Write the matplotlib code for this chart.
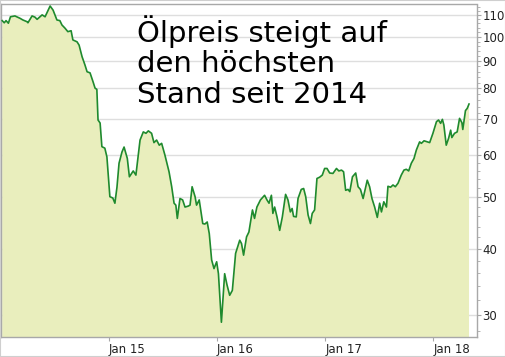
import numpy as np
import pandas as pd
import matplotlib.pyplot as plt
from matplotlib.ticker import FixedLocator, NullFormatter

# Oil price (USD per barrel)
DATES = [
    '2014-01-05', '2014-01-12', '2014-01-18', '2014-01-26', '2014-02-02', '2014-02-17',
    '2014-03-06', '2014-03-16', '2014-03-30', '2014-04-02', '2014-04-16', '2014-04-26',
    '2014-05-03', '2014-05-20', '2014-05-30', '2014-06-16', '2014-06-26', '2014-07-09',
    '2014-07-19', '2014-07-26', '2014-08-05', '2014-08-15', '2014-08-26', '2014-09-01',
    '2014-09-15', '2014-09-22', '2014-10-02', '2014-10-12', '2014-10-19', '2014-10-29',
    '2014-11-08', '2014-11-15', '2014-11-21', '2014-11-25', '2014-12-02', '2014-12-08',
    '2014-12-18', '2014-12-25', '2015-01-04', '2015-01-14', '2015-01-21', '2015-01-28',
    '2015-02-04', '2015-02-14', '2015-02-21', '2015-03-04', '2015-03-11', '2015-03-24',
    '2015-04-02', '2015-04-16', '2015-04-27', '2015-05-06', '2015-05-14', '2015-05-25',
    '2015-06-02', '2015-06-11', '2015-06-20', '2015-06-28', '2015-07-09', '2015-07-23',
    '2015-08-01', '2015-08-09', '2015-08-15', '2015-08-20', '2015-08-29', '2015-09-07',
    '2015-09-15', '2015-09-26', '2015-10-02', '2015-10-09', '2015-10-19', '2015-10-24',
    '2015-11-02', '2015-11-14', '2015-11-21', '2015-11-29', '2015-12-06', '2015-12-14',
    '2015-12-22', '2015-12-31', '2016-01-06', '2016-01-16', '2016-01-27', '2016-02-04',
    '2016-02-13', '2016-02-22', '2016-03-04', '2016-03-18', '2016-03-24', '2016-03-31',
    '2016-04-10', '2016-04-18', '2016-04-30', '2016-05-07', '2016-05-15', '2016-05-27',
    '2016-06-10', '2016-06-18', '2016-06-25', '2016-07-03', '2016-07-08', '2016-07-14',
    '2016-07-22', '2016-07-31', '2016-08-09', '2016-08-20', '2016-08-28', '2016-09-05',
    '2016-09-11', '2016-09-16', '2016-09-25', '2016-10-01', '2016-10-12', '2016-10-20',
    '2016-10-27', '2016-11-04', '2016-11-12', '2016-11-18', '2016-11-26', '2016-12-04',
    '2016-12-13', '2016-12-22', '2016-12-30', '2017-01-07', '2017-01-16', '2017-01-27',
    '2017-02-08', '2017-02-16', '2017-02-25', '2017-03-04', '2017-03-11', '2017-03-19',
    '2017-03-25', '2017-04-03', '2017-04-14', '2017-04-22', '2017-04-30', '2017-05-09',
    '2017-05-23', '2017-05-31', '2017-06-08', '2017-06-17', '2017-06-26', '2017-07-04',
    '2017-07-10', '2017-07-18', '2017-07-27', '2017-08-01', '2017-08-10', '2017-08-18',
    '2017-08-26', '2017-09-04', '2017-09-15', '2017-09-24', '2017-10-02', '2017-10-10',
    '2017-10-19', '2017-10-28', '2017-11-05', '2017-11-16', '2017-11-22', '2017-12-01',
    '2017-12-12', '2017-12-20', '2017-12-31', '2018-01-12', '2018-01-19', '2018-01-26',
    '2018-02-01', '2018-02-06', '2018-02-14', '2018-02-22', '2018-03-01', '2018-03-05',
    '2018-03-14', '2018-03-23', '2018-03-31', '2018-04-08', '2018-04-11', '2018-04-20',
    '2018-04-26', '2018-05-02',
]
PRICES = [
    107.3, 106.3, 107.3, 106.1, 109.1, 109.5,
    108.4, 107.6, 106.8, 106.3, 109.5, 108.9,
    107.9, 110.0, 109.1, 114.3, 112.3, 107.6,
    107.3, 105.3, 103.9, 102.3, 102.7, 98.7,
    97.9, 96.5, 91.8, 88.5, 86.0, 85.6,
    82.4, 80.1, 79.7, 69.8, 68.9, 62.2,
    61.8, 59.5, 50.1, 49.8, 48.7, 52.2,
    57.9, 60.8, 62.1, 59.1, 54.6, 56.0,
    55.0, 64.0, 66.3, 65.9, 66.6, 65.9,
    63.3, 64.0, 62.6, 63.1, 60.0, 55.8,
    52.3, 48.7, 48.3, 45.6, 49.7, 49.4,
    47.9, 48.1, 48.3, 52.3, 50.1, 48.3,
    49.4, 44.6, 44.5, 44.9, 42.7, 38.1,
    36.7, 37.8, 35.9, 29.1, 35.9, 34.2,
    32.7, 33.4, 39.2, 41.5, 40.9, 38.9,
    42.1, 43.0, 47.3, 45.6, 47.9, 49.4,
    50.4, 49.4, 48.7, 50.4, 46.6, 47.9,
    45.9, 43.3, 45.9, 50.6, 49.4, 46.9,
    47.6, 46.0, 45.9, 49.7, 51.7, 51.9,
    50.1, 46.3, 44.6, 46.6, 47.3, 54.2,
    54.5, 55.0, 56.6, 56.6, 55.5, 55.4,
    56.6, 56.0, 56.2, 55.8, 51.5, 51.7,
    51.2, 54.6, 55.5, 52.3, 51.7, 49.7,
    53.8, 52.3, 49.7, 47.9, 45.8, 48.7,
    46.9, 49.0, 47.9, 52.4, 52.2, 52.7,
    52.3, 53.1, 55.0, 56.2, 56.4, 56.0,
    57.9, 59.1, 61.3, 63.5, 63.1, 63.8,
    63.5, 63.3, 65.9, 69.3, 69.8, 68.8,
    70.0, 68.3, 62.6, 64.5, 66.8, 64.7,
    65.9, 66.3, 70.3, 69.0, 67.0, 72.7,
    73.4, 74.8,
]

Y_TICKS = [30, 40, 50, 60, 70, 80, 90, 100, 110]
X_TICKS = ['2015-01-01', '2016-01-01', '2017-01-01', '2018-01-01']
X_LABELS = ['Jan 15', 'Jan 16', 'Jan 17', 'Jan 18']
TITLE = 'Ölpreis steigt auf\nden höchsten\nStand seit 2014'

LINE = '#1f8a2e'
FILL = '#e9eebd'
GRID = '#dedede'
AXIS = '#a8a8a8'

dates = pd.to_datetime(DATES)
prices = np.array(PRICES)

fig = plt.figure(figsize=(5.06, 3.57), dpi=100)
ax = fig.add_axes([1 / 506, 20 / 357, 476 / 506, 333 / 357])

ax.fill_between(dates, prices, 1, color=FILL, lw=0, zorder=1)
ax.plot(dates, prices, color=LINE, lw=1.2, zorder=3)

ax.set_yscale('log')
ax.set_ylim(27.3, 115.3)
ax.set_xlim(pd.Timestamp('2014-01-01'), pd.Timestamp('2018-05-29'))

ax.yaxis.set_major_locator(FixedLocator(Y_TICKS))
ax.yaxis.set_minor_locator(FixedLocator(np.arange(28, 116, 2)))
ax.yaxis.set_minor_formatter(NullFormatter())
ax.set_yticklabels([str(t) for t in Y_TICKS])
ax.yaxis.tick_right()
ax.grid(axis='y', which='major', color=GRID, lw=1, zorder=0)
ax.set_axisbelow(True)

ax.set_xticks(pd.to_datetime(X_TICKS))
ax.set_xticklabels(X_LABELS, ha='left')
ax.xaxis.set_minor_locator(FixedLocator([]))

ax.tick_params(axis='y', which='major', direction='out', length=3, width=0.8,
               color=AXIS, labelsize=8.5, pad=1, labelcolor='#222222')
ax.tick_params(axis='y', which='minor', direction='out', length=2, width=0.6, color=AXIS)
ax.tick_params(axis='x', direction='out', length=3, width=0.8, color=AXIS,
               labelsize=8.5, pad=1, labelcolor='#222222')

for side in ['left', 'top', 'bottom']:
    ax.spines[side].set_color(AXIS)
    ax.spines[side].set_linewidth(1)
ax.spines['right'].set_color(AXIS)
ax.spines['right'].set_linestyle((0, (1, 1)))
ax.spines['right'].set_linewidth(1)

# handwritten headline in the reference; no script font here, so plain sans
fig.text(137 / 506, 1 - 15 / 357, TITLE, fontsize=21, va='top', ha='left',
         linespacing=1.12, color='black')

fig.patches.append(plt.Rectangle((0, 0), 1, 1, transform=fig.transFigure,
                                 fill=False, edgecolor='#cfcfcf', lw=1.5))

fig.savefig('out.png', dpi=100)
